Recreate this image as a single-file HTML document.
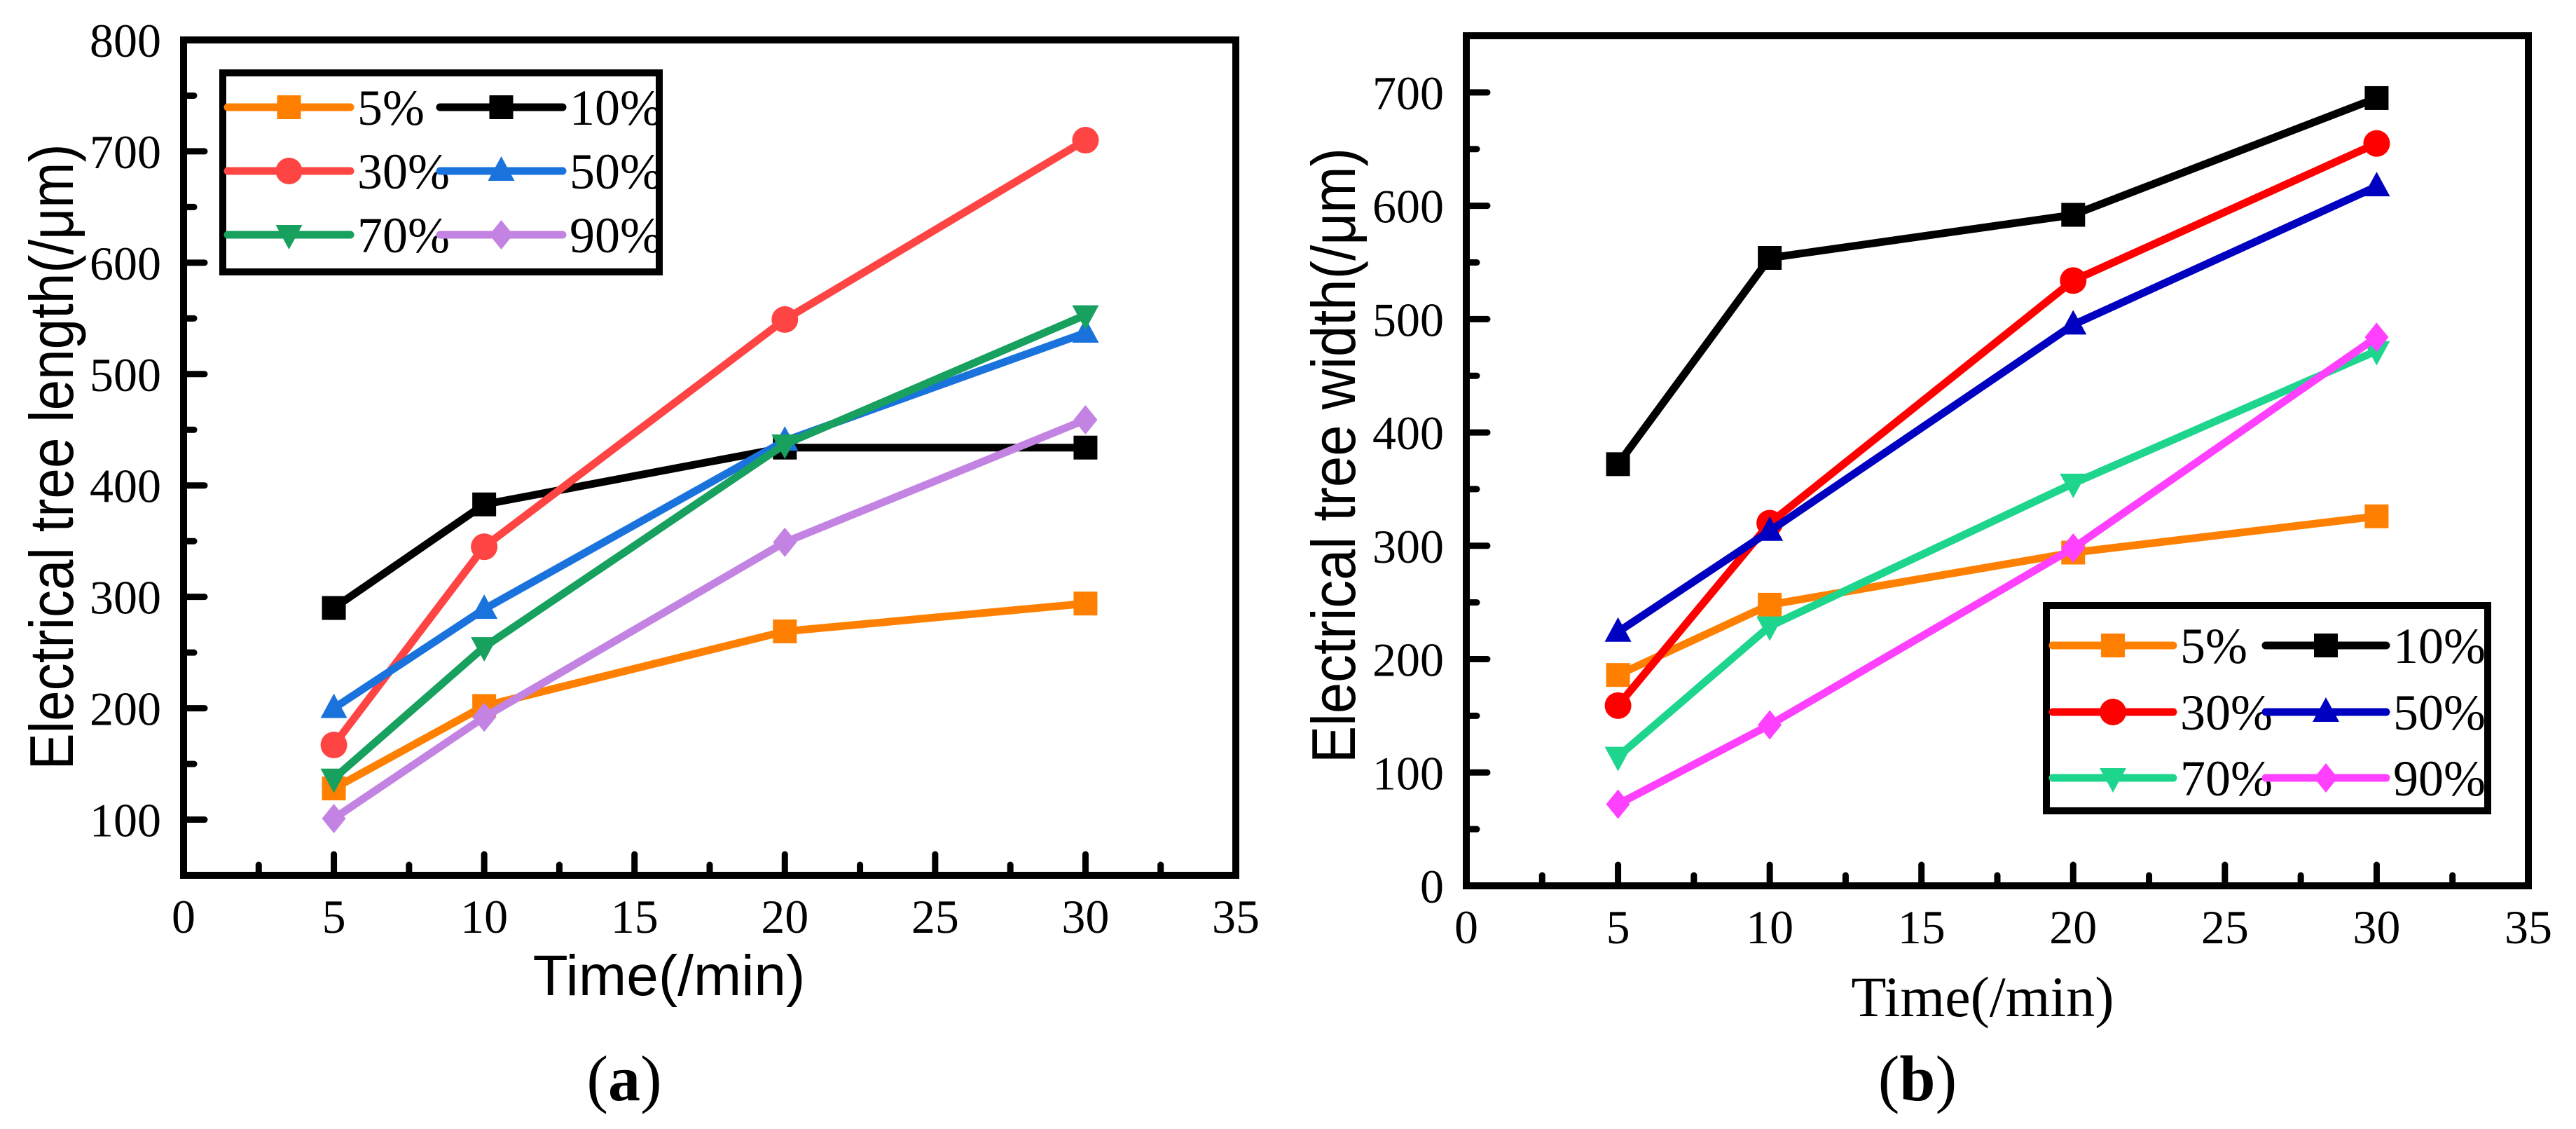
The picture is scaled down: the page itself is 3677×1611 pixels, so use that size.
<!DOCTYPE html>
<html><head><meta charset="utf-8"><style>
html,body{margin:0;padding:0;background:#fff;}
svg{display:block;}
.tick{font-family:"Liberation Serif",serif;font-size:68px;fill:#000;}
.sans{font-family:"Liberation Sans",sans-serif;}
.serif{font-family:"Liberation Serif",serif;}
</style></head><body>
<svg id="fig" width="3677" height="1611" viewBox="0 0 3677 1611" xmlns="http://www.w3.org/2000/svg"></svg>
<script>
const timesMin = [5, 10, 20, 30];
const seriesLabels = ["5%", "10%", "30%", "50%", "70%", "90%"];
const markerShapes = ["square", "square", "circle", "up", "down", "diamond"];
const xTickLabels = [0, 5, 10, 15, 20, 25, 30, 35];
// chart (a) electrical tree length
const lenP5 = [128, 202, 269, 294];
const lenP10 = [290, 383, 434, 434];
const lenP30 = [167, 345, 549, 710];
const lenP50 = [200, 289, 440, 537];
const lenP70 = [137, 255, 437, 553];
const lenP90 = [101, 192, 349, 459];
const lenYTicks = [100, 200, 300, 400, 500, 600, 700, 800];
// chart (b) electrical tree width
const widP5 = [186, 248, 294, 326];
const widP10 = [372, 554, 592, 695];
const widP30 = [159, 320, 534, 655];
const widP50 = [224, 313, 495, 617];
const widP70 = [114, 229, 355, 472];
const widP90 = [72, 142, 298, 484];
const widYTicks = [0, 100, 200, 300, 400, 500, 600, 700];

const NS = "http://www.w3.org/2000/svg";
const svg = document.getElementById("fig");
function mk(tag, attrs, parent) {
  const e = document.createElementNS(NS, tag);
  for (const k in attrs) e.setAttribute(k, attrs[k]);
  (parent || svg).appendChild(e);
  return e;
}
function marker(g, shape, x, y, color) {
  let e;
  if (shape === "square") e = mk("rect", {x: x-17, y: y-17, width: 34, height: 34, fill: color}, g);
  else if (shape === "circle") e = mk("circle", {cx: x, cy: y, r: 19, fill: color}, g);
  else if (shape === "up") e = mk("polygon", {points: `${x},${y-21} ${x-19},${y+14} ${x+19},${y+14}`, fill: color}, g);
  else if (shape === "down") e = mk("polygon", {points: `${x},${y+21} ${x-19},${y-14} ${x+19},${y-14}`, fill: color}, g);
  else e = mk("polygon", {points: `${x},${y-21} ${x+17},${y} ${x},${y+21} ${x-17},${y}`, fill: color}, g);
  return e;
}
function chart(c) {
  const g = mk("g", {});
  
  
  const X = v => c.L + (v - 0) / 35 * (c.R - c.L);
  const Y = v => c.B - (v - c.ymin) / (c.ymax - c.ymin) * (c.B - c.T);
  for (let v = 0; v <= 35; v += 2.5) {
    const major = v % 5 === 0;
    const t = mk("line", {x1: X(v), x2: X(v), y1: c.B, y2: c.B - (major ? 30 : 15), stroke: "#000", "stroke-width": 9, "stroke-linecap": "round"}, g);
    
    
  }
  for (let v = c.ymin; v <= c.ymax; v += 50) {
    const major = v % 100 === 0;
    const t = mk("line", {x1: c.L, x2: c.L + (major ? 30 : 15), y1: Y(v), y2: Y(v), stroke: "#000", "stroke-width": 9, "stroke-linecap": "round"}, g);
    
    
  }
  xTickLabels.forEach(v => {
    const t = mk("text", {x: X(v), y: c.B + 82, "text-anchor": "middle", class: "tick"}, g);
    t.textContent = v;
    
    
  });
  c.yTicks.forEach(v => {
    const t = mk("text", {x: c.L - 32, y: Y(v) + 24, "text-anchor": "end", class: "tick"}, g);
    t.textContent = v;
    
    
  });
  c.series.forEach((s, i) => {
    const sg = mk("g", {}, g);
    
    
    const pts = timesMin.map((t, j) => X(t) + "," + Y(s[j])).join(" ");
    mk("polyline", {points: pts, fill: "none", stroke: c.colors[i], "stroke-width": 11, "stroke-linejoin": "round", "stroke-linecap": "round"}, sg);
    timesMin.forEach((t, j) => {
      const m = marker(sg, markerShapes[i], X(t), Y(s[j]), c.colors[i]);
      
      
    });
  });
  const f = mk("rect", {x: c.L, y: c.T, width: c.R - c.L, height: c.B - c.T, fill: "none", stroke: "#000", "stroke-width": 10}, g);
  
  
  const lg = mk("g", {}, g);
  
  
  mk("rect", {x: c.lg.x, y: c.lg.y, width: c.lg.w, height: c.lg.h, fill: "#fff", stroke: "#000", "stroke-width": 10}, lg);
  seriesLabels.forEach((lab, i) => {
    const col = i % 2, row = Math.floor(i / 2);
    const lx = c.lg.cols[col], ly = c.lg.rows[row];
    const e = mk("g", {}, lg);
    
    
    mk("line", {x1: lx, x2: lx + c.lg.len, y1: ly, y2: ly, stroke: c.colors[i], "stroke-width": 11, "stroke-linecap": "round"}, e);
    marker(e, markerShapes[i], lx + c.lg.len / 2, ly, c.colors[i]);
    const t = mk("text", {x: lx + c.lg.len + 10, y: ly + 25, class: "serif", "font-size": 72}, e);
    t.textContent = lab;
  });
  const xt = mk("text", {x: c.xt.x, y: c.xt.y, "text-anchor": "middle", class: c.xt.cls, "font-size": 82}, g);
  xt.textContent = "Time(/min)";
  
  
  const yt = mk("text", {x: 0, y: 0, "text-anchor": "middle", class: "sans", "font-size": 88, transform: `translate(${c.yt.x},${c.yt.y}) rotate(-90)`, textLength: c.yt.len, lengthAdjust: "spacingAndGlyphs"}, g);
  yt.textContent = c.yt.text;
  
  
  const cap = mk("text", {x: c.cap.x, y: c.cap.y, "text-anchor": "middle", class: "serif", "font-size": 92}, g);
  cap.innerHTML = '(<tspan font-weight="bold">' + c.cap.t + '</tspan>)';
  
  
}
chart({
  name: "chart-a-length", L: 262, R: 1764, T: 57, B: 1249, ymin: 50, ymax: 800, yTicks: lenYTicks,
  series: [lenP5, lenP10, lenP30, lenP50, lenP70, lenP90],
  colors: ["#ff8000", "#000000", "#ff4444", "#1a73dd", "#17a05e", "#c383e3"],
  lg: {x: 318, y: 104, w: 623, h: 284, cols: [325, 628], rows: [153, 244, 335], len: 175},
  xt: {x: 955, y: 1420, cls: "sans"},
  yt: {x: 104, y: 652, len: 893, text: "Electrical tree length(/μm)"},
  cap: {x: 891, y: 1570, t: "a"}
});
chart({
  name: "chart-b-width", L: 2093, R: 3609, T: 51, B: 1264, ymin: 0, ymax: 750, yTicks: widYTicks,
  series: [widP5, widP10, widP30, widP50, widP70, widP90],
  colors: ["#ff8000", "#000000", "#ff0000", "#0000c0", "#1ed58e", "#ff40ff"],
  lg: {x: 2921, y: 864, w: 630, h: 293, cols: [2930, 3234], rows: [921, 1016, 1110], len: 172},
  xt: {x: 2830, y: 1450, cls: "serif"},
  yt: {x: 1934, y: 650, len: 878, text: "Electrical tree width(/μm)"},
  cap: {x: 2737, y: 1570, t: "b"}
});
</script>
</body></html>
